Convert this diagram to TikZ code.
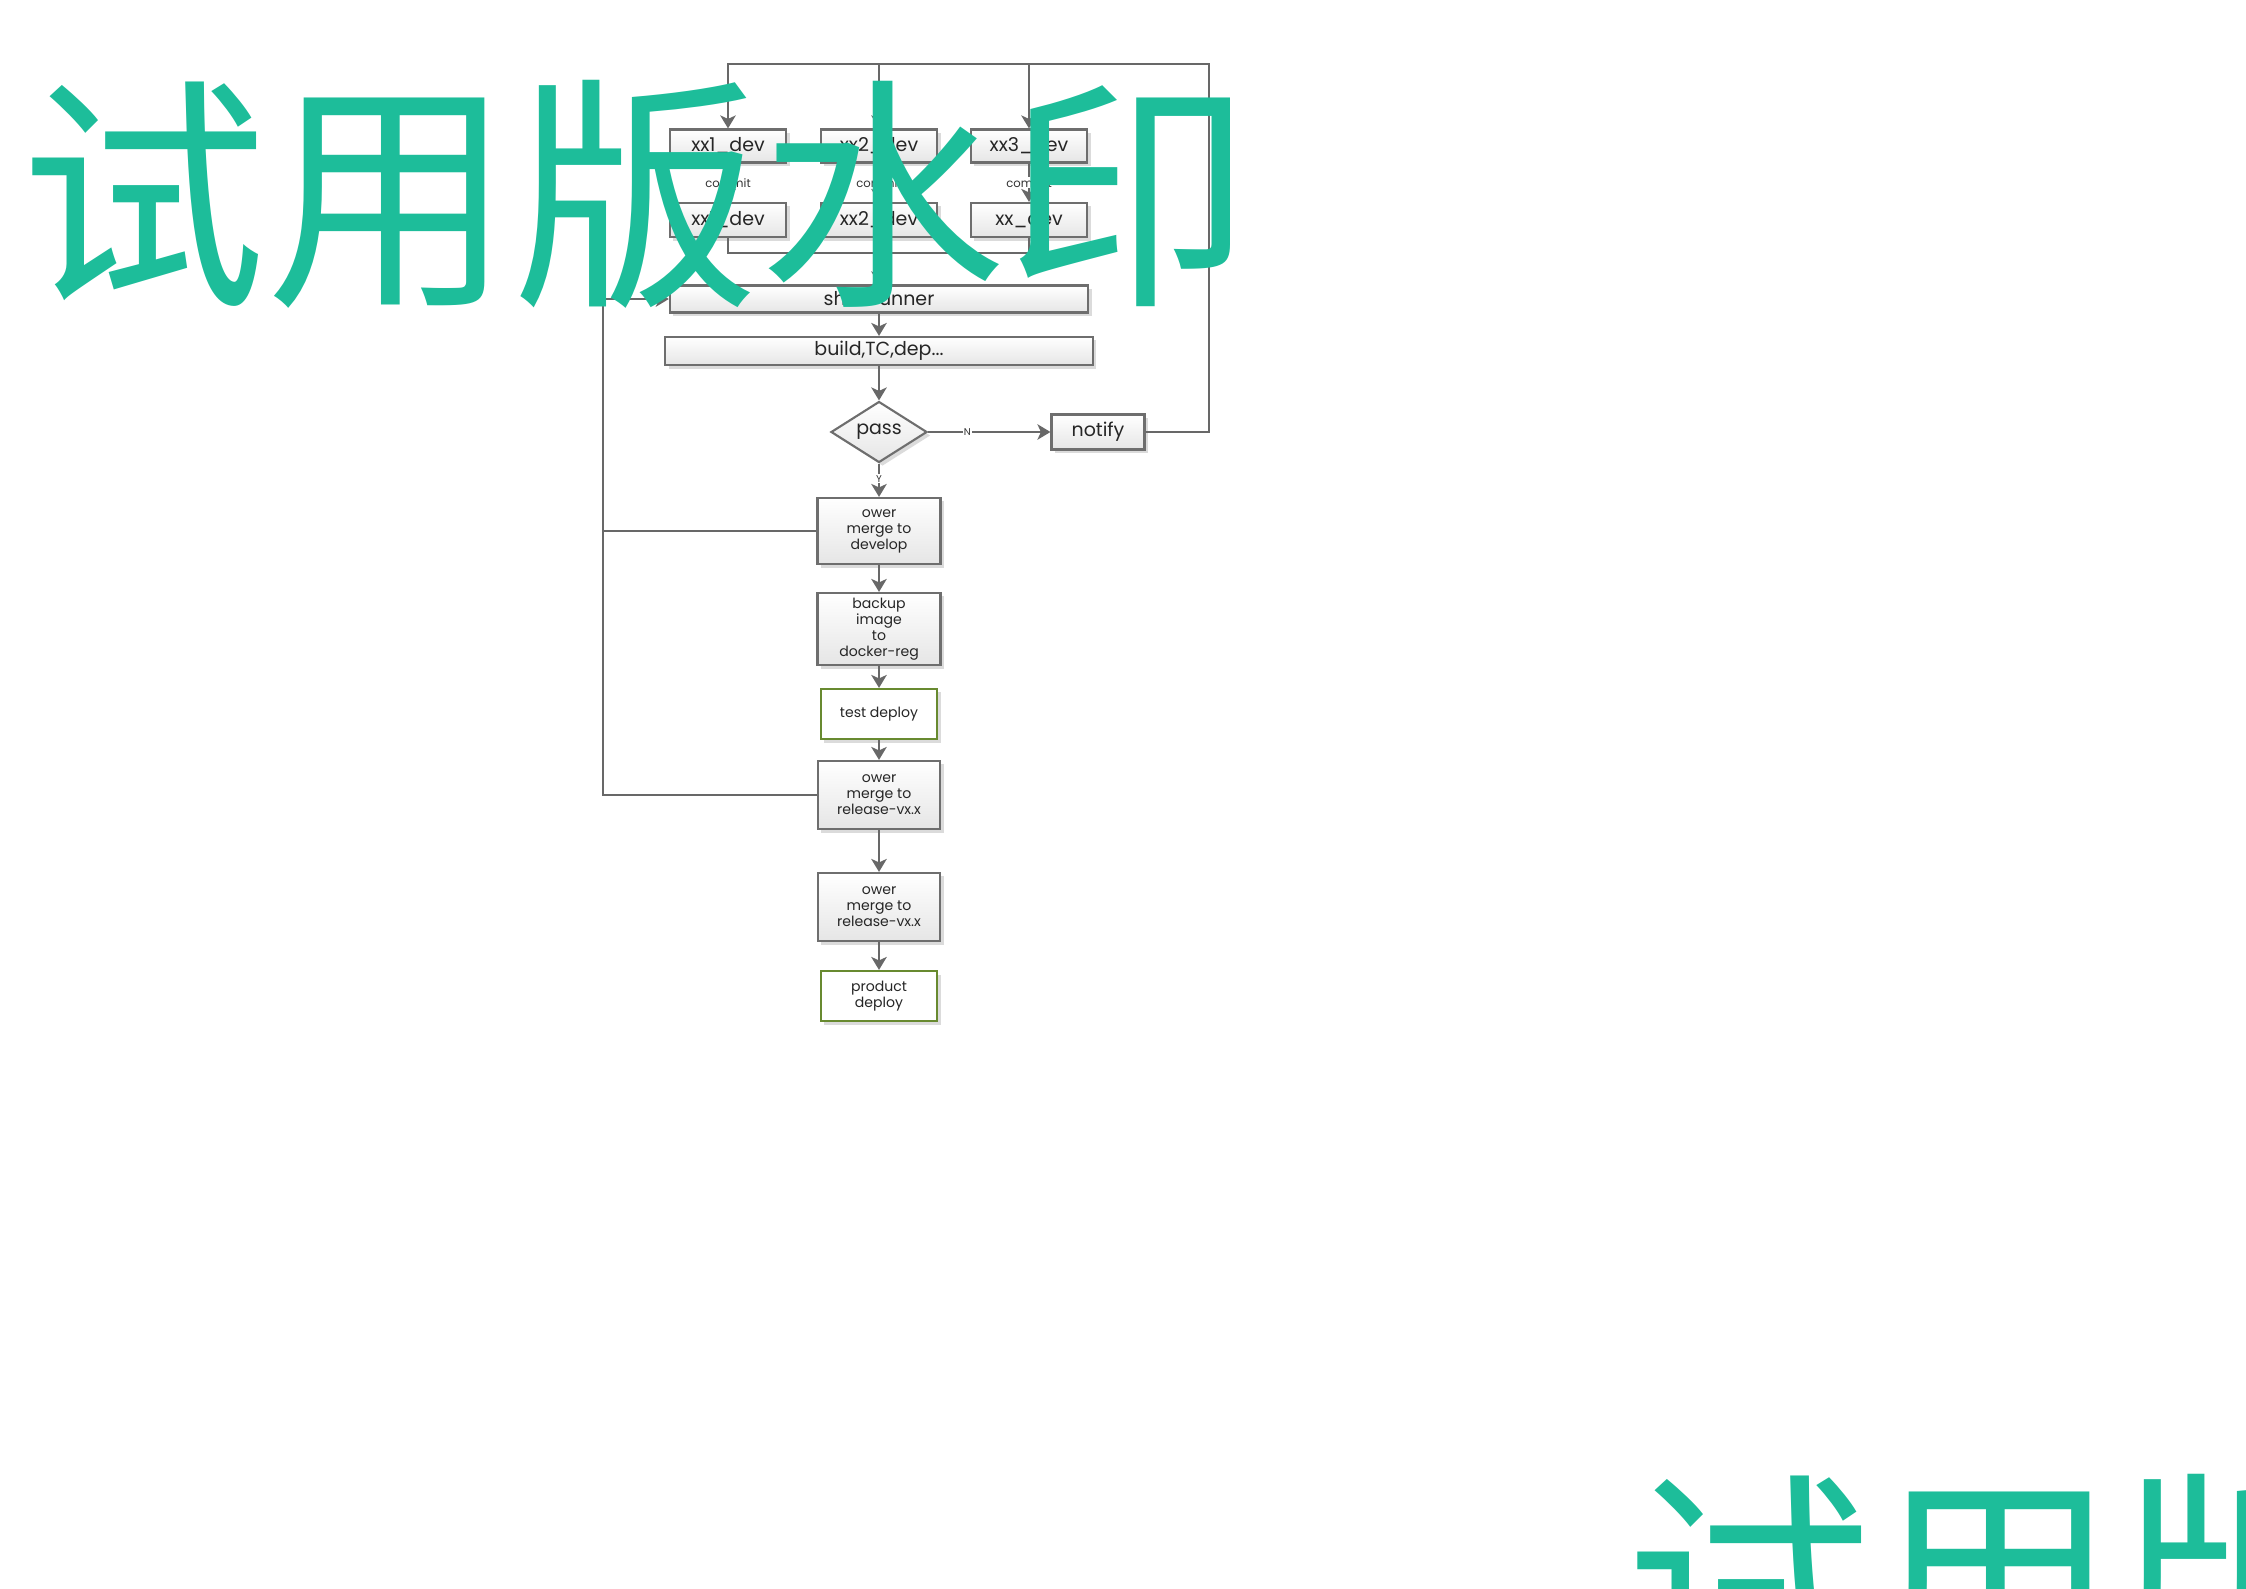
\documentclass[tikz,border=0pt]{standalone}
\usepackage{fontspec}
\setmainfont{Poppins}
\newfontfamily\cjk{Noto Sans CJK SC}
\usetikzlibrary{shapes.geometric,shadows,arrows.meta}
\definecolor{edgegray}{RGB}{104,104,104}
\definecolor{boxgray}{RGB}{110,110,110}
\definecolor{okgreen}{RGB}{104,138,48}
\definecolor{wmteal}{RGB}{29,189,154}
\begin{document}
\begin{tikzpicture}[x=0.01cm,y=-0.01cm,
    line/.style={draw=edgegray,line width=0.6pt},
    conn/.style={line,-{Stealth[length=1.3mm,width=1.55mm,inset=0.35mm]}},
    lbl/.style={fill=white,inner sep=0.3pt,text=black!80,font=\fontsize{3.3}{4}\selectfont},
    wm/.style={anchor=west,inner sep=0pt,text=wmteal,font=\cjk\fontsize{70}{70}\selectfont}]
  \path[use as bounding box,clip] (0,0) rectangle (2246,1588);
  \begin{scope}[every node/.style={rectangle,draw=boxgray,line width=0.6pt,top color=white,bottom color=black!10,
      drop shadow={shadow xshift=0.035cm,shadow yshift=-0.035cm,fill=black!14,opacity=1},
      inner sep=0pt,align=center,text=black!85,font=\fontsize{5.4}{6}\selectfont}]
    \node[minimum width=1.16cm,minimum height=0.33cm] (xa) at (728,146) {xx1\_dev};
    \node[minimum width=1.16cm,minimum height=0.33cm] (xb) at (879,146) {xx2\_dev};
    \node[minimum width=1.16cm,minimum height=0.33cm] (xc) at (1029,146) {xx3\_dev};
    \node[minimum width=1.16cm,minimum height=0.34cm] (ya) at (728,220) {xx1\_dev};
    \node[minimum width=1.16cm,minimum height=0.34cm] (yb) at (879,220) {xx2\_dev};
    \node[minimum width=1.16cm,minimum height=0.34cm] (yc) at (1029,220) {xx\_dev};
    \node[minimum width=4.18cm,minimum height=0.27cm] (shell) at (879,299) {shell runner};
    \node[minimum width=4.27cm,minimum height=0.28cm] (build) at (879,351) {build,TC,dep...};
    \node[diamond,minimum width=0.96cm,minimum height=0.58cm] (pass) at (879,432) {pass};
    \node[minimum width=0.93cm,minimum height=0.35cm] (notify) at (1098,432) {notify};
    \node[minimum width=1.23cm,minimum height=0.66cm,font=\fontsize{4}{4.55}\selectfont] (dev) at (879,531) {ower\\merge to\\develop};
    \node[minimum width=1.23cm,minimum height=0.72cm,font=\fontsize{4}{4.55}\selectfont] (backup) at (879,629) {backup\\image\\to\\docker-reg};
    \node[minimum width=1.16cm,minimum height=0.50cm,font=\fontsize{4}{4.55}\selectfont,draw=okgreen,fill=white,top color=white,bottom color=white,drop shadow={opacity=0}] (test) at (879,714) {test deploy};
    \node[minimum width=1.22cm,minimum height=0.68cm,font=\fontsize{4}{4.55}\selectfont] (relA) at (879,795) {ower\\merge to\\release-vx.x};
    \node[minimum width=1.22cm,minimum height=0.68cm,font=\fontsize{4}{4.55}\selectfont] (relB) at (879,907) {ower\\merge to\\release-vx.x};
    \node[minimum width=1.16cm,minimum height=0.50cm,font=\fontsize{4}{4.55}\selectfont,draw=okgreen,fill=white,top color=white,bottom color=white,drop shadow={opacity=0}] (product) at (879,996) {product\\deploy};
  \end{scope}
  \coordinate (topR) at (1209,64);
  \coordinate (brk) at (879,253);
  \coordinate (lft) at (603,299);
  \begin{scope}[every edge/.style={conn}]
    \path (xa) edge node[lbl]{commit} (ya);
    \path (xb) edge node[lbl]{commit} (yb);
    \path (xc) edge node[lbl]{commit} (yc);
    \path (yb) edge node[lbl,pos=0.27]{t} (shell);
    \path (shell) edge (build);
    \path (build) edge (pass);
    \path (pass) edge node[lbl,pos=0.32,font=\fontsize{2.8}{3}\selectfont]{N} (notify);
    \path (pass) edge node[lbl,pos=0.45,font=\fontsize{2.8}{3}\selectfont]{Y} (dev);
    \path (dev) edge (backup);
    \path (backup) edge (test);
    \path (test) edge (relA);
    \path (relA) edge (relB);
    \path (relB) edge (product);
  \end{scope}
  \draw[conn] (notify) -| (topR) -| (xa);
  \draw[conn] (xb |- topR) -- (xb);
  \draw[conn] (xc |- topR) -- (xc);
  \draw[line] (ya) |- (brk) -| (yc);
  \draw[conn] (relA) -| (lft) -- (shell);
  \draw[line] (dev) -- (dev -| lft);
  \node[wm] (wmA) at (20,194) {试用版水印};
  \node[wm] (wmB) at (1625,1588) {试用版水印};
\end{tikzpicture}
\end{document}
